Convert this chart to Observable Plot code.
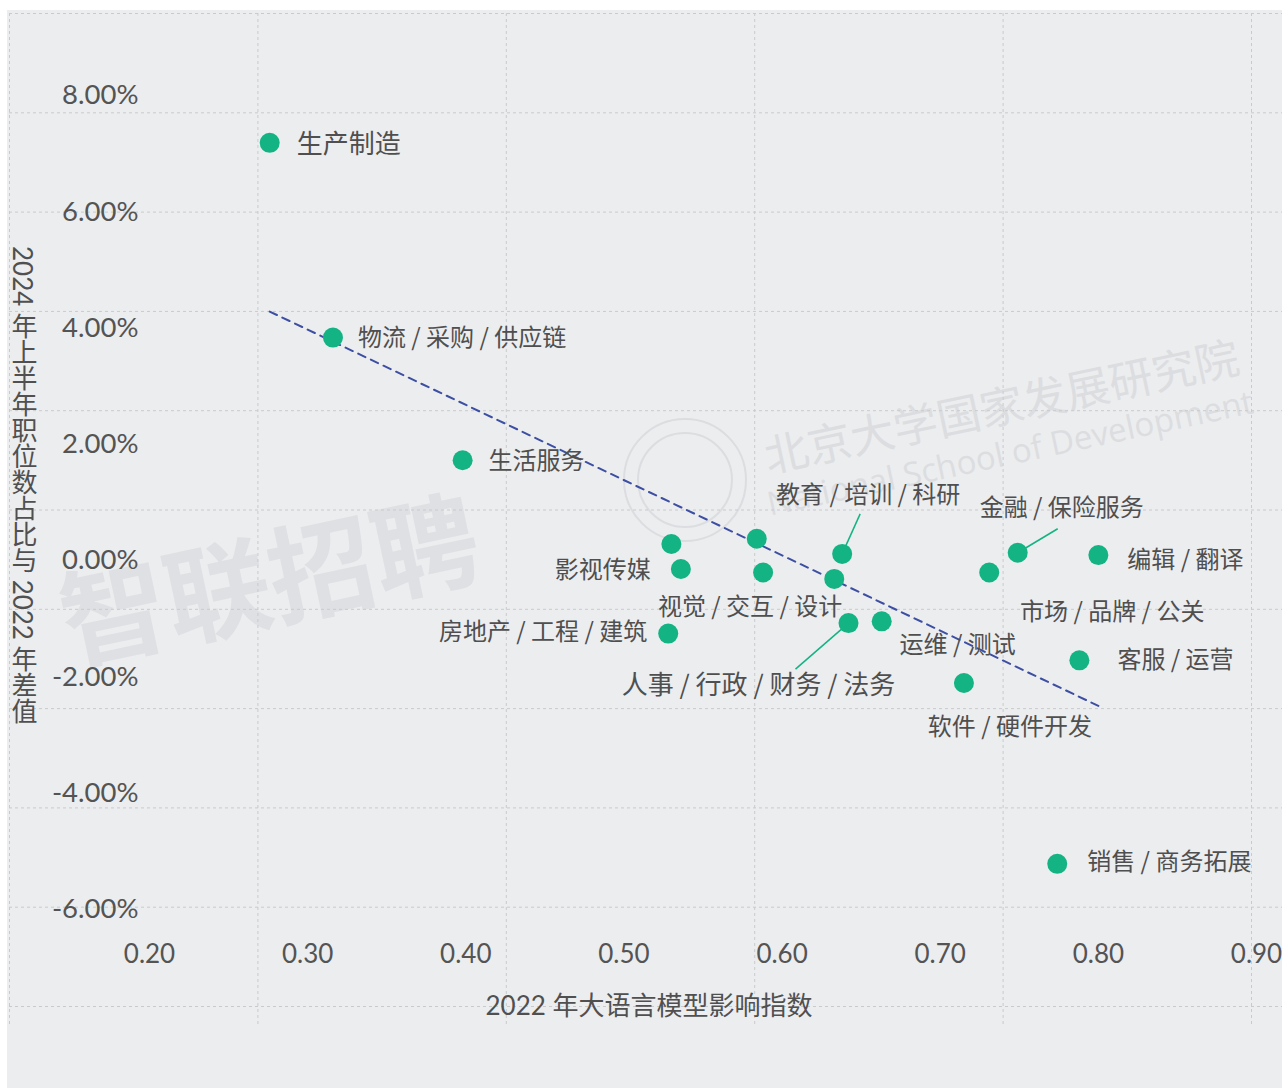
<!DOCTYPE html>
<html><head><meta charset="utf-8">
<script src="https://cdn.jsdelivr.net/npm/d3@7"></script>
<script src="https://cdn.jsdelivr.net/npm/@observablehq/plot@0.6"></script>
<style>
html,body{margin:0;padding:0;background:#fff;}
#chart{position:relative;width:1282px;height:1088px;overflow:hidden;font-family:Lato,"Noto Sans CJK SC",sans-serif;color:#505050;}
#bg{position:absolute;left:7px;top:10px;right:0;bottom:0;background:#ecedef;}
.layer{position:absolute;left:0;top:0;}
.wm{position:absolute;white-space:nowrap;transform:translate(-50%,-50%) rotate(-12deg);line-height:1;}
#ytitle{position:absolute;left:8px;top:246px;writing-mode:vertical-rl;text-orientation:mixed;font-size:26px;line-height:30px;white-space:nowrap;}
#xtitle{position:absolute;left:649px;top:990px;transform:translateX(-50%);font-size:26px;line-height:30px;white-space:nowrap;}
.ring{position:absolute;border-radius:50%;border:2px solid #dcdde0;transform:translate(-50%,-50%);}
</style></head>
<body>
<div id="chart">
  <div id="bg"></div>
  <div class="wm" style="left:268px;top:574px;font-size:106px;font-weight:700;color:#dfe0e3;font-family:'Noto Sans CJK SC';">智联招聘</div>
  <div class="ring" style="left:685px;top:480px;width:120px;height:120px;"></div>
  <div class="ring" style="left:685px;top:480px;width:92px;height:92px;"></div>
  <div class="wm" style="left:1001px;top:404px;font-size:44px;color:#dcdde0;font-family:'Noto Sans CJK SC';">北京大学国家发展研究院</div>
  <div class="wm" style="left:1010px;top:452px;font-size:33px;color:#dcdde0;font-family:'Open Sans';">National School of Development</div>
  <div id="grid" class="layer"></div>
  <div id="plot" class="layer"></div>
  <div id="ytitle">2024 年上半年职位数占比与 2022 年差值</div>
  <div id="xtitle">2022 年大语言模型影响指数</div>
</div>
<script>
// ---- data ----
const names = ["生产制造", "物流 / 采购 / 供应链", "生活服务", "影视传媒", "视觉 / 交互 / 设计",
  "教育 / 培训 / 科研", "人事 / 行政 / 财务 / 法务", "运维 / 测试", "房地产 / 工程 / 建筑",
  "金融 / 保险服务", "市场 / 品牌 / 公关", "编辑 / 翻译", "客服 / 运营", "软件 / 硬件开发",
  "销售 / 商务拓展", null, null, null];
const llmIndex = [0.276, 0.316, 0.398, 0.536, 0.588, 0.638, 0.642, 0.663, 0.528,
  0.749, 0.731, 0.800, 0.788, 0.715, 0.774, 0.530, 0.584, 0.633];
const shareDiff = [7.16, 3.81, 1.70, -0.17, -0.23, 0.09, -1.10, -1.07, -1.28,
  0.11, -0.23, 0.07, -1.74, -2.13, -5.24, 0.26, 0.35, -0.34];
const xTicks = [0.2, 0.3, 0.4, 0.5, 0.6, 0.7, 0.8, 0.9];
const yTicks = [-6, -4, -2, 0, 2, 4, 6, 8];
const gridCols = [0, 1, 2, 3, 4, 5];
const gridRows = [0, 1, 2, 3, 4, 5, 6, 7, 8, 9, 10];

// ---- label layout (pixel offsets) ----
const labelLayout = {
  "生产制造": {anchor: "start", dx: 27, dy: 2, size: 26},
  "物流 / 采购 / 供应链": {anchor: "start", dx: 25, dy: 1},
  "生活服务": {anchor: "start", dx: 26, dy: 1},
  "影视传媒": {anchor: "end", dx: -30, dy: 1},
  "视觉 / 交互 / 设计": {anchor: "middle", dx: -13, dy: 35},
  "教育 / 培训 / 科研": {anchor: "middle", dx: 26, dy: -59, leader: [18, -40]},
  "人事 / 行政 / 财务 / 法务": {anchor: "middle", dx: -90, dy: 63, size: 26, leader: [-53, 46]},
  "运维 / 测试": {anchor: "middle", dx: 76, dy: 24},
  "房地产 / 工程 / 建筑": {anchor: "end", dx: -21, dy: -1},
  "金融 / 保险服务": {anchor: "middle", dx: 44, dy: -44, leader: [40, -24]},
  "市场 / 品牌 / 公关": {anchor: "middle", dx: 123, dy: 40},
  "编辑 / 翻译": {anchor: "start", dx: 29, dy: 5},
  "客服 / 运营": {anchor: "start", dx: 38, dy: 0},
  "软件 / 硬件开发": {anchor: "middle", dx: 46, dy: 44},
  "销售 / 商务拓展": {anchor: "start", dx: 30, dy: -1}
};

const data = names.map((name, i) => ({name, x: llmIndex[i], y: shareDiff[i]}));

const W = 1282, H = 1088;
const xDomain = [0.2, 0.9], xRange = [149, 1256];
const yDomain = [-6, 8], yRange = [907.5, 93.5];
const kx = (xRange[1] - xRange[0]) / (xDomain[1] - xDomain[0]);
const ky = (yRange[1] - yRange[0]) / (yDomain[1] - yDomain[0]);

const green = "#13b383";
const textColor = "#4f4f4f";
const fontFamily = "Lato, 'Noto Sans CJK SC', sans-serif";
const labelFont = "'Noto Sans CJK SC', sans-serif";

// ---- grid layer ----
const grid = Plot.plot({
  width: W, height: H,
  marginLeft: 9, marginRight: 0, marginTop: 13, marginBottom: 63,
  style: {background: "transparent", overflow: "visible"},
  x: {domain: [0, 5], range: [9, 1251], axis: null},
  y: {domain: [0, 10], range: [13, 1006], axis: null},
  marks: [
    Plot.ruleY(gridRows, {stroke: "#c9cacc", strokeWidth: 1, strokeDasharray: "3,3"}),
    Plot.ruleX(gridCols, {stroke: "#c9cacc", strokeWidth: 1, strokeDasharray: "3,3"})
  ]
});
document.getElementById("grid").append(grid);

// ---- data layer ----
const labeled = data.filter(d => d.name && labelLayout[d.name]);
const leaders = labeled.filter(d => labelLayout[d.name].leader).map(d => {
  const [lx, ly] = labelLayout[d.name].leader;
  return {x1: d.x, y1: d.y, x2: d.x + lx / kx, y2: d.y + ly / ky};
});

const textMarks = labeled.map(d => {
  const L = labelLayout[d.name];
  return Plot.text([d], {
    x: "x", y: "y", text: "name",
    dx: L.dx, dy: L.dy, textAnchor: L.anchor,
    fontSize: L.size || 24, fill: textColor, fontFamily: labelFont
  });
});

const plot = Plot.plot({
  width: W, height: H,
  marginLeft: 145, marginRight: 0, marginTop: 0, marginBottom: 153,
  style: {background: "transparent", overflow: "visible", fontFamily, color: "#545454"},
  x: {domain: xDomain, range: xRange},
  y: {domain: yDomain, range: yRange},
  marks: [
    Plot.axisX(xTicks, {tickSize: 0, tickPadding: 9, tickFormat: d => d.toFixed(2), fontSize: 26, label: null}),
    Plot.axisY(yTicks, {tickSize: 0, tickPadding: 7, dy: 1.5, tickFormat: d => d.toFixed(2) + "%", fontSize: 27.5, label: null}),
    Plot.linearRegressionY(data, {x: "x", y: "y", ci: 0, stroke: "#3d4fa3", strokeWidth: 2, strokeDasharray: "8,6"}),
    Plot.link(leaders, {x1: "x1", y1: "y1", x2: "x2", y2: "y2", stroke: green, strokeWidth: 1.5}),
    Plot.dot(data, {x: "x", y: "y", r: 10, fill: green}),
    ...textMarks
  ]
});
document.getElementById("plot").append(plot);
</script>
</body></html>
